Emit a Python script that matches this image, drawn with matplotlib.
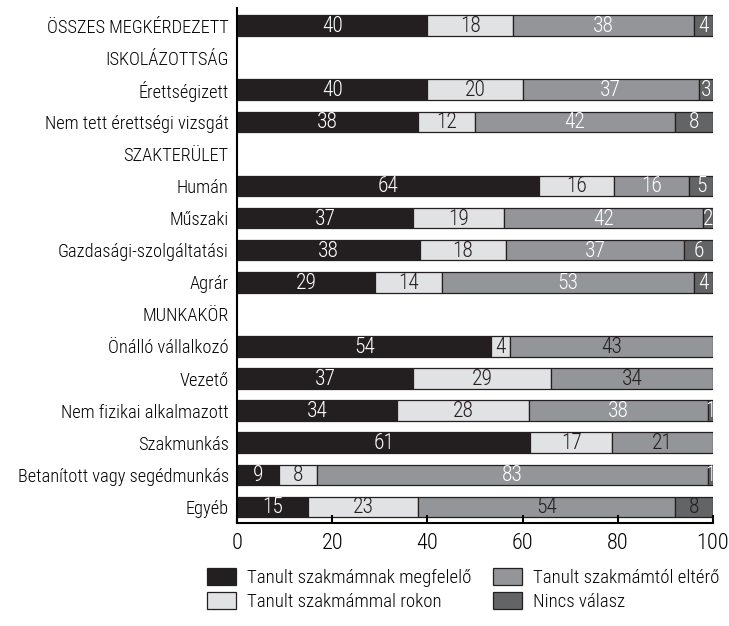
import matplotlib
matplotlib.use('Agg')
import matplotlib.pyplot as plt
import numpy as np

# sorok (felulrol lefele); None = fejlec sor, nincs oszlop
categories = ['ÖSSZES MEGKÉRDEZETT', 'ISKOLÁZOTTSÁG', 'Érettségizett',
              'Nem tett érettségi vizsgát', 'SZAKTERÜLET', 'Humán', 'Műszaki',
              'Gazdasági-szolgáltatási', 'Agrár', 'MUNKAKÖR', 'Önálló vállalkozó',
              'Vezető', 'Nem fizikai alkalmazott', 'Szakmunkás',
              'Betanított vagy segédmunkás', 'Egyéb']
megfelelo = [40, None, 40, 38, None, 64, 37, 38, 29, None, 54, 37, 34, 61, 9, 15]
rokon     = [18, None, 20, 12, None, 16, 19, 18, 14, None, 4, 29, 28, 17, 8, 23]
eltero    = [38, None, 37, 42, None, 16, 42, 37, 53, None, 43, 34, 38, 21, 83, 54]
nincs     = [4, None, 3, 8, None, 5, 2, 6, 4, None, 0, 0, 1, 0, 1, 8]

series_names = ['Tanult szakmámnak megfelelő', 'Tanult szakmámmal rokon',
                'Tanult szakmámtól eltérő', 'Nincs válasz']
colors = ['#231f20', '#e1e2e4', '#939598', '#636466']
edge = '#231f20'
# sorok, ahol a szurke szegmensek felirata sotet
dark_label_rows = ['Önálló vállalkozó', 'Vezető', 'Szakmunkás', 'Egyéb']

plt.rcParams['font.family'] = ['Roboto Condensed', 'DejaVu Sans']
plt.rcParams['font.stretch'] = 'condensed'
plt.rcParams['font.weight'] = 'light'
plt.rcParams['font.size'] = 13.2

fig = plt.figure(figsize=(7.29, 6.26), dpi=100)
ax = fig.add_axes([237 / 729, 103 / 626, 476 / 729, 515 / 626])

series = [megfelelo, rokon, eltero, nincs]
y = np.arange(len(categories))
for i, cat in enumerate(categories):
    vals = [s[i] for s in series]
    if vals[0] is None:
        continue
    total = sum(vals)
    left = 0.0
    for k, v in enumerate(vals):
        if v == 0:
            continue
        w = v / total * 100
        ax.barh(i, w, left=left, height=0.64, color=colors[k], edgecolor=edge,
                linewidth=0.9)
        if k == 0:
            tc = 'white'
        elif k == 1:
            tc = '#231f20'
        else:
            tc = '#231f20' if cat in dark_label_rows else 'white'
        ax.text(left + w / 2, i + 0.03, str(v), ha='center', va='center',
                color=tc, fontsize=15.5)
        left += w

ax.set_xlim(0, 100)
ax.set_ylim(15.5, -0.545)
ax.set_yticks(y)
ax.set_yticklabels(categories)
ax.tick_params(axis='y', length=0, pad=6)
ax.set_xticks([0, 20, 40, 60, 80, 100])
ax.tick_params(axis='x', direction='in', length=6, width=1.5, pad=7, labelsize=16)
for s in ['top', 'right']:
    ax.spines[s].set_visible(False)
ax.spines['left'].set_linewidth(1.5)
ax.spines['bottom'].set_linewidth(1.5)

handles = [plt.Rectangle((0, 0), 1, 1, facecolor=c, edgecolor=edge, linewidth=0.9)
           for c in colors]
# ket oszlop, kulon-kulon elhelyezve
leg_kw = dict(loc='upper left', frameon=False, fontsize=13.5,
              handlelength=1.55, handleheight=1.0, handletextpad=0.59,
              labelspacing=0.3, borderaxespad=0, borderpad=0)
fig.legend(handles[:2], series_names[:2],
           bbox_to_anchor=(207 / 729, 1 - 568 / 626), **leg_kw)
fig.legend(handles[2:], series_names[2:],
           bbox_to_anchor=(493 / 729, 1 - 568 / 626), **leg_kw)

fig.savefig('out.png', dpi=100)
